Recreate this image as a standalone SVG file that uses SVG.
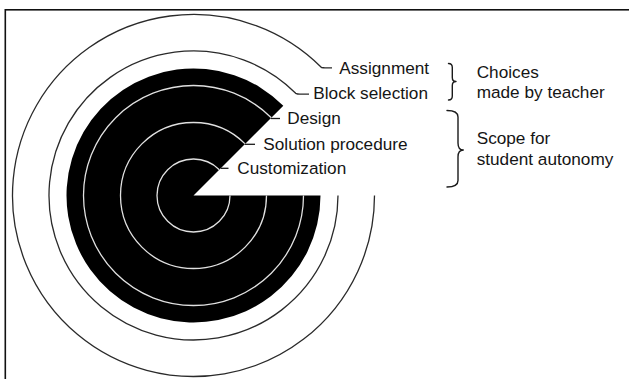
<svg xmlns="http://www.w3.org/2000/svg" width="629" height="379" viewBox="0 0 629 379">
<defs>
<clipPath id="discClip">
<path d="M193.5 195.5 L320.5 195.5 A127 127 0 1 1 283.3 105.7 Z"/>
</clipPath>
</defs>
<style>
.lbl{font-family:"Liberation Sans",Arial,Helvetica,sans-serif;font-size:17.2px;fill:#151515}
.ring{fill:none;stroke:#2a2a2a;stroke-width:1.3}
.wring{fill:none;stroke:#e0e0e0;stroke-width:1.3}
.tick{fill:none;stroke:#1a1a1a;stroke-width:1.3}
.brace{fill:none;stroke:#1a1a1a;stroke-width:1.4;stroke-linejoin:round;stroke-linecap:round}
</style>
<rect x="0" y="0" width="629" height="379" fill="#fff"/>
<rect x="5.3" y="9.8" width="640" height="400" fill="none" stroke="#111" stroke-width="1.6"/>

<g id="disc">
<path d="M193.5 195.5 L320.5 195.5 A127 127 0 1 1 283.3 105.7 Z" fill="#000"/>
</g>
<g id="customization">
<circle class="wring" cx="193.5" cy="195.5" r="36.5" clip-path="url(#discClip)"/>
<path class="tick" d="M220.7 168.3 L228.5 168.3"/>
<text class="lbl" x="237.3" y="174">Customization</text>
</g>
<g id="solution-procedure">
<circle class="wring" cx="193.5" cy="195.5" r="73" clip-path="url(#discClip)"/>
<path class="tick" d="M244.7 144.3 L255 144.3"/>
<text class="lbl" x="263.3" y="149.5">Solution procedure</text>
</g>
<g id="design">
<circle class="wring" cx="193.5" cy="195.5" r="110" clip-path="url(#discClip)"/>
<path class="tick" d="M270.7 118.5 L280 118.5"/>
<text class="lbl" x="287.3" y="124">Design</text>
</g>

<g id="connectors">
<path class="ring" d="M338 195.5 A144.5 144.5 0 1 1 295.7 93.3 Q297.5 94.2 300 94.2 L309 94.2"/>
<path class="ring" d="M374.5 195.5 A181 181 0 1 1 321.5 67.5 Q323.5 67.8 325 67.8 L332 67.8"/>
</g>
<g id="block-selection">
<text class="lbl" x="313.3" y="99">Block selection</text>
</g>
<g id="assignment">
<text class="lbl" x="339.3" y="73.5">Assignment</text>
</g>

<g id="teacher-brace">
<path class="brace" d="M448.5 63.5 Q452.3 63.5 452.3 67.5 L452.3 77.5 Q452.3 81.5 456 81.5 Q452.3 81.5 452.3 85.5 L452.3 96 Q452.3 100 448.5 100"/>
<text class="lbl" x="476.7" y="77.7">Choices</text>
<text class="lbl" x="476.7" y="98.3">made by teacher</text>
</g>
<g id="student-brace">
<path class="brace" d="M447 110.5 Q458 110.5 458 117 L458 143 Q458 150 463.3 150 Q458 150 458 157 L458 180.5 Q458 187 447 187"/>
<text class="lbl" x="476.7" y="144.3">Scope for</text>
<text class="lbl" x="476.7" y="165">student autonomy</text>
</g>
</svg>
